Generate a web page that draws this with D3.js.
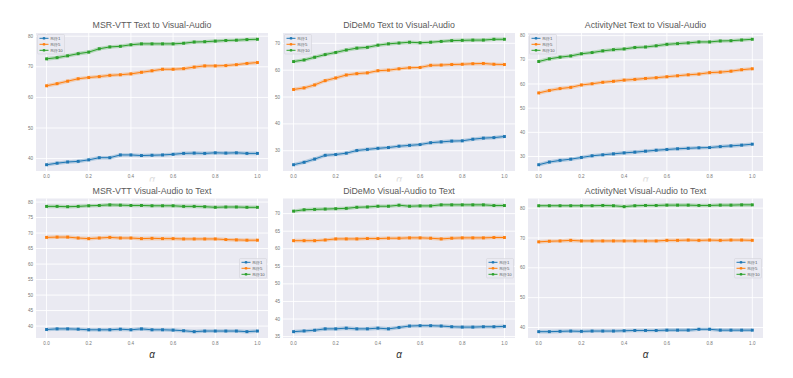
<!DOCTYPE html>
<html>
<head>
<meta charset="utf-8">
<script src="https://cdn.jsdelivr.net/npm/d3@7"></script>
<style>
  body { margin: 0; background: #fff; }
  text { font-family: "Liberation Sans", Arial, sans-serif; }
</style>
</head>
<body>
<script>
// x values (alpha) shared by every panel
var alphas = [0.0, 0.05, 0.1, 0.15, 0.2, 0.25, 0.3, 0.35, 0.4, 0.45, 0.5,
              0.55, 0.6, 0.65, 0.7, 0.75, 0.8, 0.85, 0.9, 0.95, 1.0];
var seriesNames = ["R@1", "R@5", "R@10"];
var xTicks = [0.0, 0.2, 0.4, 0.6, 0.8, 1.0];

// MSR-VTT text -> visual-audio
var msrT2vR1  = [38.0, 38.5, 38.9, 39.1, 39.6, 40.3, 40.3, 41.2, 41.2, 41.0, 41.1, 41.2, 41.4, 41.7, 41.8, 41.7, 41.9, 41.8, 41.9, 41.7, 41.7];
var msrT2vR5  = [63.8, 64.5, 65.3, 66.1, 66.5, 66.8, 67.2, 67.4, 67.7, 68.2, 68.7, 69.2, 69.2, 69.4, 69.9, 70.3, 70.3, 70.4, 70.7, 71.1, 71.4];
var msrT2vR10 = [72.6, 73.0, 73.6, 74.3, 74.8, 75.9, 76.5, 76.7, 77.2, 77.5, 77.5, 77.5, 77.5, 77.7, 78.1, 78.2, 78.4, 78.6, 78.7, 78.9, 79.0];

// DiDeMo text -> visual-audio
var didT2vR1  = [24.8, 25.7, 26.9, 28.3, 28.6, 29.1, 30.1, 30.5, 30.9, 31.2, 31.7, 32.0, 32.3, 33.0, 33.3, 33.6, 33.7, 34.3, 34.7, 34.9, 35.3];
var didT2vR5  = [52.8, 53.4, 54.5, 56.1, 57.1, 58.2, 58.7, 59.0, 59.8, 60.0, 60.5, 60.9, 61.0, 61.8, 61.9, 62.1, 62.2, 62.4, 62.5, 62.2, 62.1];
var didT2vR10 = [63.2, 63.8, 64.8, 65.8, 66.6, 67.5, 68.2, 68.5, 69.3, 69.8, 70.1, 70.4, 70.2, 70.4, 70.7, 71.0, 71.1, 71.2, 71.2, 71.5, 71.5];

// ActivityNet text -> visual-audio
var actT2vR1  = [26.6, 27.7, 28.4, 28.9, 29.6, 30.3, 30.7, 31.1, 31.5, 31.8, 32.2, 32.6, 32.9, 33.2, 33.4, 33.6, 33.7, 34.1, 34.4, 34.7, 35.1];
var actT2vR5  = [56.3, 57.3, 58.1, 58.6, 59.6, 60.1, 60.7, 61.1, 61.6, 61.9, 62.3, 62.6, 63.0, 63.4, 63.8, 64.1, 64.7, 64.9, 65.3, 65.9, 66.3];
var actT2vR10 = [69.3, 70.4, 71.1, 71.6, 72.5, 73.0, 73.7, 74.2, 74.5, 75.1, 75.3, 75.8, 76.4, 76.7, 77.0, 77.4, 77.4, 77.8, 77.9, 78.2, 78.5];

// MSR-VTT visual-audio -> text
var msrV2tR1  = [38.9, 39.1, 39.1, 39.0, 38.8, 38.8, 38.8, 39.0, 38.8, 39.1, 38.8, 38.8, 38.7, 38.5, 38.2, 38.4, 38.4, 38.4, 38.4, 38.2, 38.4];
var msrV2tR5  = [68.6, 68.7, 68.7, 68.4, 68.2, 68.4, 68.6, 68.4, 68.4, 68.2, 68.3, 68.2, 68.2, 68.1, 68.1, 68.1, 68.1, 67.9, 67.8, 67.7, 67.7];
var msrV2tR10 = [78.6, 78.6, 78.5, 78.6, 78.8, 78.9, 79.1, 79.0, 78.9, 78.9, 78.8, 78.8, 78.8, 78.6, 78.6, 78.5, 78.3, 78.4, 78.4, 78.3, 78.3];

// DiDeMo visual-audio -> text
var didV2tR1  = [36.4, 36.6, 36.8, 37.2, 37.2, 37.4, 37.2, 37.2, 37.4, 37.2, 37.6, 38.0, 38.1, 38.1, 38.0, 37.8, 37.7, 37.7, 37.8, 37.8, 37.9];
var didV2tR5  = [62.3, 62.3, 62.3, 62.5, 62.8, 62.8, 62.8, 62.9, 62.9, 63.0, 63.0, 63.1, 63.1, 63.0, 62.8, 63.0, 63.1, 63.1, 63.1, 63.2, 63.2];
var didV2tR10 = [70.7, 71.1, 71.2, 71.3, 71.4, 71.5, 71.8, 71.9, 72.1, 72.1, 72.4, 72.1, 72.2, 72.2, 72.5, 72.5, 72.5, 72.5, 72.5, 72.3, 72.3];

// ActivityNet visual-audio -> text
var actV2tR1  = [38.6, 38.6, 38.7, 38.8, 38.7, 38.8, 38.8, 38.8, 38.9, 39.0, 39.0, 39.0, 39.1, 39.1, 39.1, 39.4, 39.4, 39.1, 39.1, 39.1, 39.1];
var actV2tR5  = [68.7, 68.9, 69.0, 69.2, 69.0, 69.0, 69.0, 69.0, 69.0, 69.0, 69.0, 69.0, 69.2, 69.2, 69.3, 69.2, 69.3, 69.2, 69.3, 69.3, 69.2];
var actV2tR10 = [80.8, 80.8, 80.8, 80.8, 80.8, 80.8, 80.9, 80.8, 80.5, 80.8, 80.9, 80.9, 81.0, 81.0, 81.0, 80.9, 80.9, 81.0, 81.0, 81.1, 81.1];

var titles = ["MSR-VTT Text to Visual-Audio", "DiDeMo Text to Visual-Audio", "ActivityNet Text to Visual-Audio",
              "MSR-VTT Visual-Audio to Text", "DiDeMo Visual-Audio to Text", "ActivityNet Visual-Audio to Text"];
var yTicks = [
    [40, 50, 60, 70, 80],
    [30, 40, 50, 60, 70],
    [30, 40, 50, 60, 70, 80],
    [40, 45, 50, 55, 60, 65, 70, 75, 80],
    [35, 40, 45, 50, 55, 60, 65, 70],
    [40, 50, 60, 70, 80]
];
var panelSeries = [
    [msrT2vR1, msrT2vR5, msrT2vR10],
    [didT2vR1, didT2vR5, didT2vR10],
    [actT2vR1, actT2vR5, actT2vR10],
    [msrV2tR1, msrV2tR5, msrV2tR10],
    [didV2tR1, didV2tR5, didV2tR10],
    [actV2tR1, actV2tR5, actV2tR10]
];

// layout
var colors = ["#1f77b4", "#ff7f0e", "#2ca02c"];
var cols = [[36, 268], [283, 515], [528, 763]];
var rows = [[33, 171], [198.5, 338]];

var svg = d3.select("body").append("svg")
    .attr("width", 793)
    .attr("height", 378);

// the top row's x label is mostly cut off in the original
svg.append("defs").append("clipPath").attr("id", "topcut")
    .append("rect").attr("x", 0).attr("y", 0).attr("width", 793).attr("height", 181.5);

function drawPanel(i) {
    var r = Math.floor(i / 3), c = i % 3;
    var x0 = cols[c][0], x1 = cols[c][1], y0 = rows[r][0], y1 = rows[r][1];
    var data = panelSeries[i];

    var all = d3.merge(data);
    var lo = d3.min(all), hi = d3.max(all), pad = (hi - lo) * 0.05;

    var x = d3.scaleLinear().domain([-0.05, 1.05]).range([x0, x1]);
    var y = d3.scaleLinear().domain([lo - pad, hi + pad]).range([y1, y0]);

    var g = svg.append("g");

    g.append("rect")
        .attr("x", x0).attr("y", y0)
        .attr("width", x1 - x0).attr("height", y1 - y0)
        .attr("fill", "#eaeaf2");

    // grid
    g.selectAll(".gx").data(xTicks).enter().append("line")
        .attr("x1", function (d) { return x(d); })
        .attr("x2", function (d) { return x(d); })
        .attr("y1", y0).attr("y2", y1)
        .attr("stroke", "#fff").attr("stroke-width", 0.9);
    g.selectAll(".gy").data(yTicks[i]).enter().append("line")
        .attr("x1", x0).attr("x2", x1)
        .attr("y1", function (d) { return y(d); })
        .attr("y2", function (d) { return y(d); })
        .attr("stroke", "#fff").attr("stroke-width", 0.9);

    // tick labels
    g.selectAll(".tx").data(xTicks).enter().append("text")
        .attr("x", function (d) { return x(d); })
        .attr("y", y1 + 7)
        .attr("text-anchor", "middle")
        .attr("font-size", 4.6)
        .attr("fill", "#777")
        .text(function (d) { return d.toFixed(1); });
    g.selectAll(".ty").data(yTicks[i]).enter().append("text")
        .attr("x", x0 - 3)
        .attr("y", function (d) { return y(d) + 1.6; })
        .attr("text-anchor", "end")
        .attr("font-size", 4.6)
        .attr("fill", "#777")
        .text(function (d) { return d; });

    // title
    g.append("text")
        .attr("x", (x0 + x1) / 2)
        .attr("y", y0 - 5)
        .attr("text-anchor", "middle")
        .attr("font-size", 8.8)
        .attr("fill", "#5a5a5a")
        .text(titles[i]);

    // x label
    var lab = g.append("text")
        .attr("x", (x0 + x1) / 2)
        .attr("text-anchor", "middle")
        .attr("font-family", "DejaVu Serif")
        .attr("font-style", "italic")
        .attr("font-size", 10)
        .text("α");
    if (r === 0) {
        lab.attr("y", y1 + 11.5).attr("clip-path", "url(#topcut)").attr("fill", "#ddd");
    } else {
        lab.attr("y", y1 + 19.5).attr("fill", "#333");
    }

    var line = d3.line()
        .x(function (d, k) { return x(alphas[k]); })
        .y(function (d) { return y(d); });

    data.forEach(function (vals, s) {
        g.append("path")
            .attr("d", line(vals))
            .attr("fill", "none")
            .attr("stroke", colors[s])
            .attr("stroke-opacity", 0.28)
            .attr("stroke-width", 3.6)
            .attr("stroke-linejoin", "round");
        g.append("path")
            .attr("d", line(vals))
            .attr("fill", "none")
            .attr("stroke", colors[s])
            .attr("stroke-width", 1);
        g.selectAll(".m" + s).data(vals).enter().append("path")
            .attr("transform", function (d, k) { return "translate(" + x(alphas[k]) + "," + y(d) + ")"; })
            .attr("d", d3.symbol().type(d3.symbolSquare).size(8.5))
            .attr("fill", colors[s]);
    });

    // legend
    var lw = 27, lh = 19.5;
    var lx = r === 0 ? x0 + 1.5 : x1 - lw - 1.5;
    var ly = r === 0 ? y0 + 1.5 : (y0 + y1) / 2 - lh / 2;
    var leg = g.append("g").attr("transform", "translate(" + lx + "," + ly + ")");
    leg.append("rect")
        .attr("width", lw).attr("height", lh)
        .attr("rx", 1)
        .attr("fill", "#eaeaf2").attr("fill-opacity", 0.85)
        .attr("stroke", "#d4d4dc").attr("stroke-width", 0.6);
    seriesNames.forEach(function (name, s) {
        var yy = 3.8 + s * 6;
        leg.append("line")
            .attr("x1", 2).attr("x2", 11)
            .attr("y1", yy).attr("y2", yy)
            .attr("stroke", colors[s]).attr("stroke-width", 1);
        leg.append("path")
            .attr("transform", "translate(6.5," + yy + ")")
            .attr("d", d3.symbol().type(d3.symbolSquare).size(5.5))
            .attr("fill", colors[s]);
        leg.append("text")
            .attr("x", 13).attr("y", yy + 1.5)
            .attr("font-size", 4.3)
            .attr("fill", "#555")
            .text(name);
    });
}

window.onload = function () {
    for (var i = 0; i < 6; i++) drawPanel(i);
};
</script>
</body>
</html>
